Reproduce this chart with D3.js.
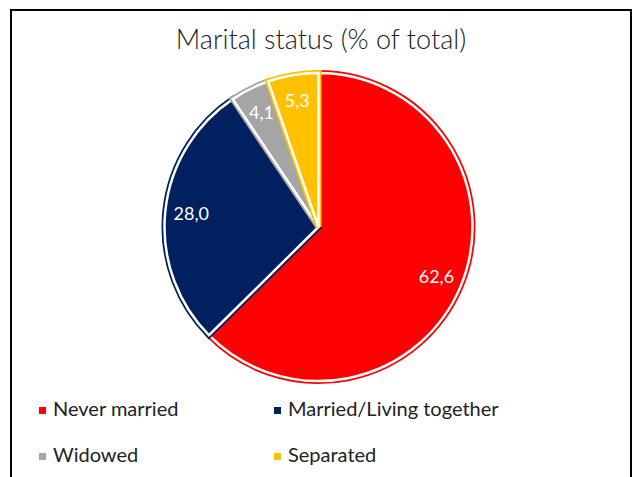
<!DOCTYPE html>
<html>
<head>
<meta charset="utf-8">
<script src="https://cdn.jsdelivr.net/npm/d3@7"></script>
<style>
  body { margin: 0; background: #fff; }
  svg { display: block; }
</style>
</head>
<body>
<div id="chart"></div>
<script>
const categories = ["Never married", "Married/Living together", "Widowed", "Separated"];
const values = [62.6, 28.0, 4.1, 5.3];
const colors = ["#ff0000", "#002060", "#a5a5a5", "#ffc000"];

const width = 633, height = 477;
const cx = 318.5, cy = 227, radius = 154;

const svg = d3.select("#chart")
    .append("svg")
    .attr("width", width)
    .attr("height", height)
    .style("font-family", "Lato, 'Open Sans', sans-serif");

// chart frame
svg.append("rect")
    .attr("x", 11)
    .attr("y", 10)
    .attr("width", 620)
    .attr("height", 490)
    .attr("fill", "none")
    .attr("stroke", "#000")
    .attr("stroke-width", 2);

// title
svg.append("text")
    .attr("x", 321)
    .attr("y", 49)
    .attr("text-anchor", "middle")
    .style("font-size", "27px")
    .style("font-weight", 300)
    .attr("fill", "#222")
    .text("Marital status (% of total)");

const data = categories.map((c, i) => ({ name: c, value: values[i], color: colors[i] }));

const pie = d3.pie()
    .sort(null)
    .value(d => d.value);

const arc = d3.arc()
    .innerRadius(0)
    .outerRadius(radius);

const labelArc = d3.arc()
    .innerRadius(radius * 0.83)
    .outerRadius(radius * 0.83);

const g = svg.append("g")
    .attr("transform", `translate(${cx},${cy})`);

const slices = g.selectAll(".slice")
    .data(pie(data))
    .enter().append("g")
    .attr("class", "slice");

// coloured outline, then white border on top
slices.append("path")
    .attr("d", arc)
    .attr("fill", d => d.data.color)
    .attr("stroke", d => d.data.color)
    .attr("stroke-width", 6)
    .attr("stroke-linejoin", "miter");

slices.append("path")
    .attr("d", arc)
    .attr("fill", "none")
    .attr("stroke", "#fff")
    .attr("stroke-width", 2.5)
    .attr("stroke-linejoin", "miter");

slices.append("text")
    .attr("transform", d => `translate(${labelArc.centroid(d)})`)
    .attr("text-anchor", "middle")
    .attr("dy", "0.35em")
    .attr("fill", "#fff")
    .style("font-size", "18px")
    .text(d => d3.format(".1f")(d.data.value).replace(".", ","));

// legend
const legend = svg.append("g");

const items = legend.selectAll(".legend-item")
    .data(data)
    .enter().append("g")
    .attr("class", "legend-item")
    .attr("transform", (d, i) => `translate(${39 + (i % 2) * 235}, ${416 + Math.floor(i / 2) * 46})`);

items.append("rect")
    .attr("y", -9)
    .attr("width", 7)
    .attr("height", 7)
    .attr("fill", d => d.color);

items.append("text")
    .attr("x", 14)
    .style("font-size", "20px")
    .attr("fill", "#222")
    .text(d => d.name);
</script>
</body>
</html>
